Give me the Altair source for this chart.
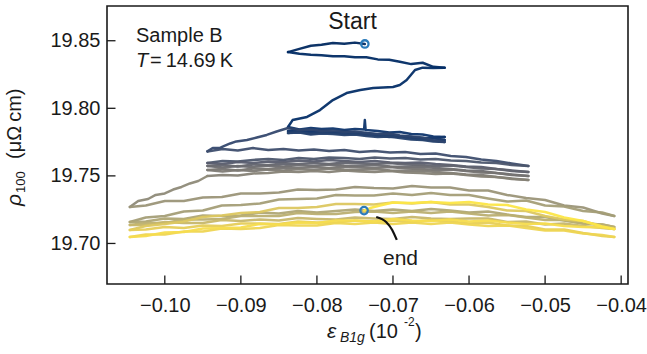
import altair as alt
import pandas as pd

FONT = "Liberation Sans"
INK = "#1a1a1a"

# ---------------- axis ticks ----------------
X_TICKS = [-0.10, -0.09, -0.08, -0.07, -0.06, -0.05, -0.04]
Y_TICKS = [19.70, 19.75, 19.80, 19.85]
X_DOMAIN = [-0.1076, -0.0391]
Y_DOMAIN = [19.6700, 19.8757]

# ---------------- strain grids (10^-2) ----------------
X_A = [-0.0838, -0.0823, -0.0808, -0.0794, -0.0779, -0.0764, -0.0750, -0.0735,
       -0.0720, -0.0705, -0.0691, -0.0676, -0.0661, -0.0647, -0.0632]
X_B = [-0.0944, -0.0924, -0.0904, -0.0884, -0.0864, -0.0844, -0.0824, -0.0804,
       -0.0784, -0.0764, -0.0744, -0.0724, -0.0704, -0.0684, -0.0664, -0.0644,
       -0.0624, -0.0604, -0.0584, -0.0564, -0.0544, -0.0522]
X_C = [-0.1046, -0.1025, -0.1000, -0.0975, -0.0950, -0.0925, -0.0900, -0.0875,
       -0.0850, -0.0825, -0.0800, -0.0775, -0.0750, -0.0725, -0.0700, -0.0675,
       -0.0650, -0.0625, -0.0600, -0.0575, -0.0550, -0.0525, -0.0500, -0.0475,
       -0.0450, -0.0425, -0.0409]

# ---------------- stage A: narrow sweeps ----------------
S1_X = [-0.0838, -0.0823, -0.0808, -0.0794, -0.0779, -0.0764, -0.0750, -0.0737]
S1_Y = [19.8416, 19.8440, 19.8463, 19.8470, 19.8484, 19.8477, 19.8486, 19.8476]
S2_Y = [19.8416, 19.8404, 19.8396, 19.8393, 19.8385, 19.8386, 19.8377, 19.8378,
        19.8362, 19.8359, 19.8344, 19.8327, 19.8337, 19.8307, 19.8300]
S3_X = [-0.0838, -0.0832, -0.0813, -0.0796, -0.0779, -0.0761, -0.0743, -0.0726,
        -0.0700, -0.0691, -0.0682, -0.0671, -0.0661, -0.0647, -0.0632]
S3_Y = [19.7862, 19.7913, 19.7936, 19.7987, 19.8061, 19.8113, 19.8135, 19.8150,
        19.8158, 19.8172, 19.8209, 19.8283, 19.8301, 19.8298, 19.8300]
A4_X = [-0.0838, -0.0823, -0.0808, -0.0794, -0.0779, -0.0764, -0.0750, -0.0738,
        -0.0737, -0.0736, -0.0720, -0.0705, -0.0691, -0.0676, -0.0661, -0.0647, -0.0632]
A4_Y = [19.7862, 19.7843, 19.7854, 19.7847, 19.7851, 19.7840, 19.7847, 19.7843,
        19.7913, 19.7840, 19.7832, 19.7821, 19.7825, 19.7810, 19.7806, 19.7792, 19.7788]
A5_Y = [19.7832, 19.7836, 19.7825, 19.7828, 19.7817, 19.7825, 19.7810, 19.7814,
        19.7799, 19.7803, 19.7791, 19.7788, 19.7769, 19.7780, 19.7788]
A6_Y = [19.7832, 19.7840, 19.7832, 19.7836, 19.7825, 19.7832, 19.7821, 19.7817,
        19.7806, 19.7810, 19.7795, 19.7788, 19.7777, 19.7780, 19.7766]
A7_Y = [19.7817, 19.7825, 19.7814, 19.7821, 19.7817, 19.7810, 19.7814, 19.7803,
        19.7799, 19.7788, 19.7791, 19.7777, 19.7773, 19.7762, 19.7766]
A8_Y = [19.7817, 19.7821, 19.7806, 19.7814, 19.7810, 19.7803, 19.7806, 19.7795,
        19.7788, 19.7791, 19.7780, 19.7769, 19.7766, 19.7754, 19.7751]
A9_Y = [19.7854, 19.7840, 19.7843, 19.7832, 19.7836, 19.7825, 19.7828, 19.7817,
        19.7810, 19.7814, 19.7799, 19.7791, 19.7784, 19.7762, 19.7751]

# ---------------- transition A -> B ----------------
T1_X = [-0.0944, -0.0937, -0.0928, -0.0924, -0.0914, -0.0906, -0.0892, -0.0879,
        -0.0866, -0.0853, -0.0838]
T1_Y = [19.7681, 19.7706, 19.7706, 19.7717, 19.7740, 19.7755, 19.7766, 19.7784,
        19.7803, 19.7828, 19.7854]

# ---------------- stage B ----------------
B1_Y = [19.7681, 19.7699, 19.7688, 19.7706, 19.7692, 19.7699, 19.7688, 19.7695,
        19.7684, 19.7692, 19.7677, 19.7684, 19.7673, 19.7677, 19.7662, 19.7665,
        19.7647, 19.7640, 19.7621, 19.7610, 19.7592, 19.7573]
B2_Y = [19.7595, 19.7610, 19.7606, 19.7618, 19.7625, 19.7618, 19.7632, 19.7625,
        19.7636, 19.7632, 19.7625, 19.7636, 19.7628, 19.7632, 19.7621, 19.7625,
        19.7614, 19.7610, 19.7599, 19.7595, 19.7581, 19.7573]
B3_Y = [19.7595, 19.7588, 19.7603, 19.7595, 19.7606, 19.7603, 19.7614, 19.7606,
        19.7618, 19.7610, 19.7603, 19.7610, 19.7599, 19.7595, 19.7599, 19.7588,
        19.7581, 19.7569, 19.7566, 19.7551, 19.7540, 19.7529]
B4_Y = [19.7573, 19.7581, 19.7569, 19.7584, 19.7581, 19.7592, 19.7588, 19.7595,
        19.7588, 19.7599, 19.7592, 19.7588, 19.7595, 19.7584, 19.7581, 19.7573,
        19.7577, 19.7566, 19.7555, 19.7551, 19.7536, 19.7529]
B5_Y = [19.7573, 19.7562, 19.7573, 19.7566, 19.7577, 19.7569, 19.7581, 19.7573,
        19.7584, 19.7577, 19.7573, 19.7581, 19.7569, 19.7566, 19.7569, 19.7558,
        19.7551, 19.7540, 19.7536, 19.7521, 19.7510, 19.7499]
B6_Y = [19.7544, 19.7551, 19.7540, 19.7555, 19.7551, 19.7562, 19.7558, 19.7566,
        19.7558, 19.7569, 19.7562, 19.7558, 19.7566, 19.7555, 19.7551, 19.7544,
        19.7547, 19.7536, 19.7525, 19.7521, 19.7507, 19.7499]
B7_Y = [19.7544, 19.7533, 19.7544, 19.7536, 19.7547, 19.7540, 19.7551, 19.7544,
        19.7555, 19.7547, 19.7544, 19.7551, 19.7540, 19.7536, 19.7540, 19.7529,
        19.7521, 19.7510, 19.7507, 19.7492, 19.7481, 19.7470]
B8_Y = [19.7499, 19.7507, 19.7503, 19.7518, 19.7521, 19.7533, 19.7529, 19.7536,
        19.7529, 19.7540, 19.7533, 19.7529, 19.7536, 19.7525, 19.7521, 19.7514,
        19.7518, 19.7507, 19.7495, 19.7492, 19.7477, 19.7470]

# ---------------- transition B -> C ----------------
T2_X = [-0.1046, -0.1035, -0.1022, -0.1012, -0.1000, -0.0989, -0.0978, -0.0967,
        -0.0956, -0.0944]
T2_Y = [19.7270, 19.7314, 19.7329, 19.7359, 19.7370, 19.7399, 19.7418, 19.7444,
        19.7462, 19.7499]

# ---------------- stage C ----------------
C1_Y = [19.7270, 19.7281, 19.7314, 19.7314, 19.7340, 19.7344, 19.7370, 19.7370,
        19.7377, 19.7399, 19.7396, 19.7399, 19.7418, 19.7410, 19.7407, 19.7425,
        19.7414, 19.7414, 19.7392, 19.7392, 19.7359, 19.7336, 19.7322, 19.7281,
        19.7266, 19.7222, 19.7203]
C2_Y = [19.7159, 19.7192, 19.7203, 19.7236, 19.7244, 19.7281, 19.7285, 19.7296,
        19.7325, 19.7329, 19.7333, 19.7359, 19.7355, 19.7355, 19.7370, 19.7359,
        19.7373, 19.7359, 19.7359, 19.7333, 19.7310, 19.7318, 19.7281, 19.7273,
        19.7240, 19.7229, 19.7203]
C3_Y = [19.7159, 19.7162, 19.7185, 19.7181, 19.7207, 19.7203, 19.7207, 19.7229,
        19.7222, 19.7240, 19.7229, 19.7240, 19.7251, 19.7240, 19.7251, 19.7240,
        19.7255, 19.7244, 19.7229, 19.7236, 19.7214, 19.7196, 19.7196, 19.7170,
        19.7148, 19.7140, 19.7122]
C4_Y = [19.7137, 19.7151, 19.7151, 19.7177, 19.7177, 19.7181, 19.7203, 19.7203,
        19.7203, 19.7225, 19.7218, 19.7218, 19.7233, 19.7236, 19.7225, 19.7236,
        19.7225, 19.7236, 19.7222, 19.7207, 19.7211, 19.7192, 19.7174, 19.7174,
        19.7148, 19.7140, 19.7122]
C5_Y = [19.7137, 19.7137, 19.7159, 19.7151, 19.7151, 19.7174, 19.7166, 19.7177,
        19.7170, 19.7188, 19.7181, 19.7177, 19.7192, 19.7185, 19.7181, 19.7196,
        19.7185, 19.7181, 19.7185, 19.7185, 19.7159, 19.7162, 19.7140, 19.7148,
        19.7129, 19.7114, 19.7107]
C6_Y = [19.7100, 19.7129, 19.7144, 19.7162, 19.7196, 19.7207, 19.7225, 19.7233,
        19.7262, 19.7262, 19.7270, 19.7292, 19.7292, 19.7288, 19.7303, 19.7296,
        19.7307, 19.7288, 19.7288, 19.7270, 19.7244, 19.7240, 19.7203, 19.7177,
        19.7166, 19.7125, 19.7107]
C7_Y = [19.7100, 19.7103, 19.7122, 19.7114, 19.7133, 19.7129, 19.7148, 19.7148,
        19.7144, 19.7162, 19.7155, 19.7155, 19.7170, 19.7162, 19.7170, 19.7159,
        19.7174, 19.7162, 19.7148, 19.7155, 19.7133, 19.7129, 19.7103, 19.7103,
        19.7077, 19.7055, 19.7048]
C8_Y = [19.7048, 19.7066, 19.7066, 19.7088, 19.7088, 19.7111, 19.7107, 19.7114,
        19.7137, 19.7133, 19.7133, 19.7151, 19.7144, 19.7155, 19.7144, 19.7155,
        19.7144, 19.7155, 19.7140, 19.7129, 19.7133, 19.7114, 19.7096, 19.7096,
        19.7074, 19.7063, 19.7048]
C9_Y = [19.7048, 19.7055, 19.7081, 19.7085, 19.7111, 19.7114, 19.7118, 19.7144,
        19.7140, 19.7155, 19.7151, 19.7170, 19.7170, 19.7162, 19.7181, 19.7170,
        19.7166, 19.7177, 19.7162, 19.7170, 19.7155, 19.7144, 19.7148, 19.7129,
        19.7122, 19.7118, 19.7107]
C10_X = [-0.0738, -0.0730, -0.0717, -0.0700, -0.0675, -0.0650, -0.0625, -0.0600,
         -0.0575, -0.0550, -0.0525, -0.0500, -0.0475, -0.0450, -0.0425, -0.0409]
C10_Y = [19.7243, 19.7262, 19.7281, 19.7303, 19.7299, 19.7307, 19.7299, 19.7307,
         19.7288, 19.7285, 19.7251, 19.7233, 19.7192, 19.7166, 19.7125, 19.7107]

# elapsed-time shade of each sweep (0 = start, 1 = end)
SWEEP_SHADE = [0.04, 0.06, 0.08, 0.11, 0.13, 0.15, 0.17, 0.19, 0.21, 0.23,
               0.26, 0.30, 0.34, 0.38, 0.42, 0.46, 0.50, 0.54, 0.58,
               0.64, 0.68, 0.72, 0.76, 0.80, 0.87, 0.90, 0.93, 0.96, 1.00]

# start / end markers
MARK_X = [-0.0737, -0.0738]
MARK_Y = [19.8476, 19.7243]

# annotation curve pointing at the end marker
CURVE_X = [-0.0722, -0.0709, -0.0701, -0.0695]
CURVE_Y = [19.7196, 19.7159, 19.7100, 19.7026]

SWEEPS = [
    (S1_X, S1_Y), (X_A, S2_Y), (S3_X, S3_Y), (A4_X, A4_Y), (X_A, A5_Y),
    (X_A, A6_Y), (X_A, A7_Y), (X_A, A8_Y), (X_A, A9_Y), (T1_X, T1_Y),
    (X_B, B1_Y), (X_B, B2_Y), (X_B, B3_Y), (X_B, B4_Y), (X_B, B5_Y),
    (X_B, B6_Y), (X_B, B7_Y), (X_B, B8_Y), (T2_X, T2_Y),
    (X_C, C1_Y), (X_C, C2_Y), (X_C, C3_Y), (X_C, C4_Y), (X_C, C5_Y),
    (X_C, C6_Y), (X_C, C7_Y), (X_C, C8_Y), (X_C, C9_Y), (C10_X, C10_Y),
]
assert len(SWEEPS) == len(SWEEP_SHADE)

rows = []
for k, (xs, ys) in enumerate(SWEEPS):
    assert len(xs) == len(ys), (k, len(xs), len(ys))
    for i, (a, b) in enumerate(zip(xs, ys)):
        rows.append({"x": a, "y": b, "sweep": k, "shade": SWEEP_SHADE[k], "idx": i})
lines_df = pd.DataFrame(rows)

W, H = 521, 278

xscale = alt.Scale(domain=X_DOMAIN, nice=False, zero=False)
yscale = alt.Scale(domain=Y_DOMAIN, nice=False, zero=False)
xaxis = alt.Axis(values=X_TICKS, format=".2f", ticks=False, domain=False, grid=False,
                 labelFont=FONT, labelFontSize=20, labelColor=INK, labelPadding=11,
                 labelFlush=False, labelOverlap=False, title=None)
yaxis = alt.Axis(values=Y_TICKS, format=".2f", ticks=False, domain=False, grid=False,
                 labelFont=FONT, labelFontSize=20, labelColor=INK, labelPadding=7,
                 labelFlush=False, labelOverlap=False, title=None)
X = alt.X("x:Q", scale=xscale, axis=xaxis, title=None)
Y = alt.Y("y:Q", scale=yscale, axis=yaxis, title=None)

lines = alt.Chart(lines_df).mark_line(
    strokeWidth=2.5, opacity=0.95, strokeJoin="round", strokeCap="round"
).encode(
    x=X, y=Y,
    color=alt.Color("shade:Q", scale=alt.Scale(scheme="cividis", domain=[0, 1]), legend=None),
    detail="sweep:N",
    order="idx:Q",
)

markers = alt.Chart(pd.DataFrame({"x": MARK_X, "y": MARK_Y})).mark_point(
    shape="circle", filled=False, size=55, strokeWidth=2.3, color="#2b7bba", opacity=1
).encode(x=X, y=Y)

curve = alt.Chart(pd.DataFrame({"x": CURVE_X, "y": CURVE_Y})).mark_line(
    color="#111111", strokeWidth=2.2, interpolate="monotone"
).encode(x=X, y=Y)

xticks = alt.Chart(pd.DataFrame({"x": X_TICKS})).mark_rule(
    color=INK, strokeWidth=1.3
).encode(x=X, y=alt.value(H), y2=alt.value(H - 8.5))
yticks = alt.Chart(pd.DataFrame({"y": Y_TICKS})).mark_rule(
    color=INK, strokeWidth=1.3
).encode(y=Y, x=alt.value(0), x2=alt.value(8.5))


def label(txt, px, py, size=20, align="left", italic=False, angle=0):
    kw = dict(font=FONT, fontSize=size, align=align, baseline="alphabetic",
              color=INK, fontStyle="italic" if italic else "normal")
    if angle:
        kw["angle"] = angle
    return alt.Chart(pd.DataFrame({"t": [txt]})).mark_text(**kw).encode(
        x=alt.value(px), y=alt.value(py), text="t:N")


texts = [
    label("Sample B", 29, 36),
    label("T", 29, 60.7, italic=True),
    label("=\u200914.69\u2009K", 43, 60.7),
    label("Start", 245.5, 23.3, size=23, align="center"),
    label("end", 293.5, 259, size=21, align="center"),
    # x-axis title: eps_B1g (10^-2)
    label("\u03b5", 220, 332, size=21, italic=True),
    label("B1g", 233, 336, size=14, italic=True),
    label("(10", 262, 332, size=20),
    label("-2", 297, 320, size=12),
    label(")", 308, 332, size=20),
    # y-axis title: rho_100 (muOhm cm)
    label("\u03c1", -86, 200, size=21, italic=True, angle=270),
    label("100", -82, 187, size=13, angle=270),
    label("(\u03bc\u03a9\u2009cm)", -86, 153, size=20, angle=270),
]

chart = alt.layer(lines, markers, curve, xticks, yticks, *texts).properties(
    width=W, height=H,
    padding={"left": 107, "top": 6, "right": 19, "bottom": 70},
    autosize=alt.AutoSizeParams(type="none"),
    background="white",
).configure_view(stroke=INK, strokeWidth=1.6)

chart.save("out.html", embed_options={"renderer": "svg", "actions": False})
